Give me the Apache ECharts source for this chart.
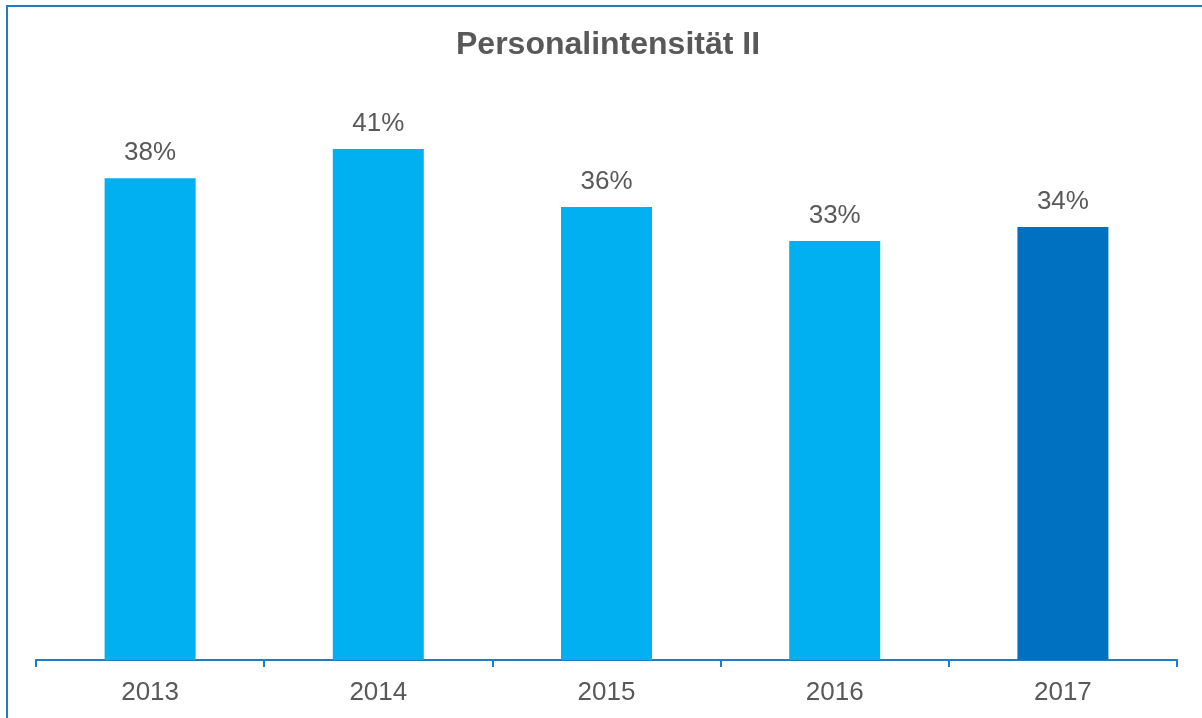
<!DOCTYPE html>
<html lang="de">
<head>
<meta charset="UTF-8">
<title>Personalintensität II</title>
<style>
  html, body { margin: 0; padding: 0; background: #fff; }
  #wrap { position: relative; width: 1202px; height: 718px; overflow: hidden; }
  #chart { position: absolute; left: 0; top: 0; width: 1202px; height: 718px; }
  #frame { position: absolute; left: 6px; top: 5px; width: 1300px; height: 800px;
           border-top: 2px solid #1E7DC8; border-left: 2px solid #1E7DC8; pointer-events: none; }
</style>
</head>
<body>
<div id="wrap">
  <div id="chart"></div>
  <div id="frame"></div>
</div>
<script src="https://cdn.jsdelivr.net/npm/echarts@6/dist/echarts.min.js"></script>
<script>
var years = ['2013', '2014', '2015', '2016', '2017'];
var values = [38.23, 40.56, 35.95, 33.25, 34.37];
var barColors = ['#00B0F0', '#00B0F0', '#00B0F0', '#00B0F0', '#0070C0'];

var chart = echarts.init(document.getElementById('chart'));

var option = {
    animation: false,
    title: {
        text: 'Personalintensität II',
        left: 456,
        top: 29,
        padding: 0,
        textStyle: {
            fontFamily: 'Liberation Sans, Arial, sans-serif',
            fontSize: 32,
            fontWeight: 'bold',
            color: '#595959'
        }
    },
    grid: { left: 36, right: 25, top: 30, bottom: 58 },
    xAxis: {
        type: 'category',
        data: years,
        axisLine: { lineStyle: { color: '#1E7DC8', width: 2 } },
        axisTick: { show: true, length: 7, lineStyle: { color: '#1E7DC8', width: 2 } },
        axisLabel: {
            margin: 20,
            fontFamily: 'Liberation Sans, Arial, sans-serif',
            fontSize: 26,
            color: '#595959'
        }
    },
    yAxis: {
        type: 'value',
        min: 0,
        max: 50,
        show: false,
        splitLine: { show: false }
    },
    series: [{
        type: 'bar',
        barWidth: 91,
        data: values.map(function (v, i) {
            return { value: v, itemStyle: { color: barColors[i] } };
        }),
        label: {
            show: true,
            position: 'top',
            distance: 12,
            fontFamily: 'Liberation Sans, Arial, sans-serif',
            fontSize: 26,
            color: '#595959',
            formatter: function (p) { return Math.round(p.value) + '%'; }
        }
    }]
};

chart.setOption(option);
</script>
</body>
</html>
